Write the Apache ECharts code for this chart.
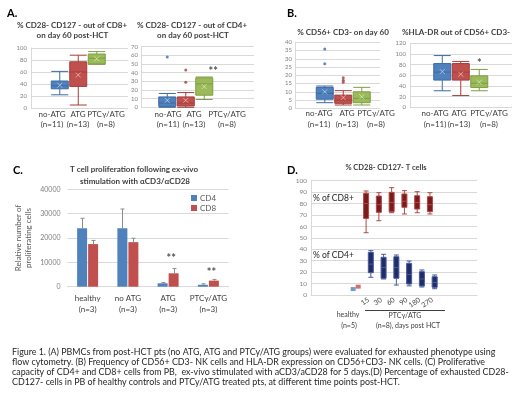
<!DOCTYPE html>
<html>
<head>
<meta charset="utf-8">
<script src="https://cdn.jsdelivr.net/npm/echarts@6/dist/echarts.min.js"></script>
<style>
html, body { margin: 0; padding: 0; background: #fff; }
#main { width: 520px; height: 396px; }
</style>
</head>
<body>
<div id="main"></div>
<script>
// groups used by panels A and B
var groups = ['no-ATG', 'ATG', 'PTCγ/ATG'];
var groupN = ['(n=11)', '(n=13)', '(n=8)'];

// A left: % CD28- CD127- out of CD8+  [min, Q1, median, Q3, max]
var cd8Box = [[22, 32, 37, 45, 61], [5, 36, 60, 77, 88], [73, 73, 83, 90, 94]];
var cd8Mean = [38, 55, 82];
var cd8Outliers = [[], [], []];
var cd8Sig = [[2, 101, '**']];

// A right: % CD28- CD127- out of CD4+
var cd4Box = [[0, 1, 5, 12, 16], [0, 1.5, 5, 12, 17], [9, 14, 27, 34, 35]];
var cd4Mean = [8, 8, 24];
var cd4Outliers = [[58], [43, 29], []];
var cd4Sig = [[2, 41.5, '**']];

// B left: % CD56+ CD3- on day 60
var nkBox = [[3.4, 5.5, 9, 12.7, 13.5], [2, 3, 5, 8, 10.7], [2, 3.4, 6, 10, 12.7]];
var nkMean = [10, 6.5, 7];
var nkOutliers = [[36, 27], [18.5, 17, 15.8], []];
var nkSig = [];

// B right: %HLA-DR out of CD56+ CD3-
var hlaBox = [[31, 51, 66, 82, 97], [22, 51, 66, 82, 86], [31, 37, 45, 59, 71]];
var hlaMean = [67, 62, 47];
var hlaOutliers = [[], [], []];
var hlaSig = [[2, 82, '*']];

// C: proliferation
var procCats = ['healthy\n(n=3)', 'no ATG\n(n=3)', 'ATG\n(n=3)', 'PTCγ/ATG\n(n=3)'];
var cd4Prolif = [24000, 24000, 1400, 800];
var cd4ProlifErr = [4100, 7900, 300, 400];
var cd8Prolif = [17500, 18300, 5500, 2500];
var cd8ProlifErr = [1500, 1600, 2000, 500];
var prolifSig = [[2, 11400, '**'], [3, 5800, '**']];

// D: % CD28- CD127- T cells over time
var dayLabels = ['15', '30', '60', '90', '180', '270'];
var dCats = ['p1', 'p2', 'p3', 'healthy'].concat(dayLabels, ['p4', 'p5', 'p6']);
var dCd8Box = [[54.5, 67, 80, 89, 91], [65, 72.3, 79, 86.6, 89.5], [72, 72.9, 81, 89.8, 93.9],
               [70.9, 76.7, 82, 88.4, 91.3], [72, 75.2, 81, 86.9, 90.4], [70.9, 72.9, 79, 86, 89.5]];
var dCd4Box = [[15.5, 19.5, 27, 37.3, 38.8], [14, 14.6, 24, 33, 35.6], [8.7, 14.6, 24, 33.5, 35],
               [8, 9.6, 18, 27.7, 29.7], [7, 7.9, 14, 20.4, 21.9], [5.5, 6.7, 11, 16, 17.5]];
var healthyCd4 = 5.2;
var healthyCd8 = 7.3;

var caption = [
  'Figure 1. (A) PBMCs from post-HCT pts (no ATG, ATG and PTCy/ATG groups) were evaluated for exhausted phenotype using',
  'flow cytometry. (B) Frequency of CD56+ CD3- NK cells and HLA-DR expression on CD56+CD3- NK cells. (C) Proliferative',
  'capacity of CD4+ and CD8+ cells from PB,  ex-vivo stimulated with aCD3/aCD28 for 5 days.(D) Percentage of exhausted CD28-',
  'CD127- cells in PB of healthy controls and PTCy/ATG treated pts, at different time points post-HCT.'
];

var FONT = 'Lato';
var groupColors = ['#4f81bd', '#c0504d', '#9bbb59'];
var groupBorders = ['#3c6aa3', '#a53d3a', '#7f9d44'];
var gridColor = '#d9d9d9';

var grids = [], xAxes = [], yAxes = [], series = [], graphics = [];

function txt(x, y, text, size, color, align, weight) {
  graphics.push({
    type: 'text', x: x, y: y, silent: true,
    style: {
      text: text, fill: color || '#404040', textAlign: align || 'center', textVerticalAlign: 'middle',
      font: (weight || 'normal') + ' ' + size + 'px ' + FONT
    }
  });
}

function boxPanel(p) {
  // background grid: value axis and grid lines
  var bg = grids.length;
  grids.push({ left: p.left, top: p.top, width: p.width, height: p.height });
  xAxes.push({ gridIndex: bg, type: 'value', show: false, min: 0, max: 1 });
  yAxes.push({
    gridIndex: bg, type: 'value', min: 0, max: p.max, interval: p.step,
    axisLine: { show: true, lineStyle: { color: gridColor } }, axisTick: { show: false },
    splitLine: { lineStyle: { color: gridColor, width: 1 } },
    axisLabel: { fontSize: p.labelSize, color: '#808080', margin: p.margin, fontFamily: FONT }
  });
  // box grid: three groups side by side
  var fg = grids.length;
  grids.push({ left: p.boxLeft, top: p.top, width: 55.5, height: p.height });
  xAxes.push({ gridIndex: fg, type: 'category', data: groups, show: false });
  yAxes.push({ gridIndex: fg, type: 'value', min: 0, max: p.max, show: false });

  series.push({
    type: 'boxplot', xAxisIndex: fg, yAxisIndex: fg, boxWidth: [17, 17],
    data: p.box.map(function (b, i) {
      return { value: b, itemStyle: { color: groupColors[i], borderColor: groupBorders[i], borderWidth: 1 } };
    })
  });
  var outs = [];
  p.outliers.forEach(function (arr, i) {
    arr.forEach(function (v) {
      outs.push({ value: [i, v], itemStyle: { color: groupBorders[i] } });
    });
  });
  series.push({ type: 'scatter', xAxisIndex: fg, yAxisIndex: fg, symbolSize: 3, data: outs, z: 5 });
  series.push({
    type: 'scatter', xAxisIndex: fg, yAxisIndex: fg, symbol: 'path://M0,0L8,8M8,0L0,8', symbolSize: 5, z: 6,
    data: p.mean.map(function (m, i) {
      return { value: [i, m], itemStyle: { color: 'transparent', borderColor: 'rgba(255,255,255,0.6)', borderWidth: 1 } };
    })
  });
  series.push({
    type: 'scatter', xAxisIndex: fg, yAxisIndex: fg, symbolSize: 1, z: 7,
    itemStyle: { color: 'transparent' },
    label: {
      show: true, position: 'inside', offset: p.sigOffset || [0, 0], formatter: function (d) { return d.value[2]; },
      fontSize: 11, fontWeight: 'bold', color: '#262626', fontFamily: FONT
    },
    data: p.sig
  });
  groups.forEach(function (g, i) {
    txt(p.labelX[i], p.labelY, g, 8, '#404040');
    txt(p.labelX[i], p.labelY + 10.5, groupN[i], 8, '#404040');
  });
}

boxPanel({ left: 31, top: 48, width: 97, height: 60, max: 100, step: 20, labelSize: 6, margin: 4,
  boxLeft: 50.5, box: cd8Box, mean: cd8Mean, outliers: cd8Outliers, sig: cd8Sig,
  labelX: [52, 78, 106], labelY: 114 });
boxPanel({ left: 141, top: 46.7, width: 113, height: 60.6, max: 70, step: 10, labelSize: 6, margin: 3,
  boxLeft: 158, box: cd4Box, mean: cd4Mean, outliers: cd4Outliers, sig: cd4Sig, sigOffset: [9, 0],
  labelX: [168, 194, 227], labelY: 114 });
boxPanel({ left: 295, top: 42.3, width: 85, height: 66, max: 40, step: 5, labelSize: 6, margin: 3,
  boxLeft: 315.5, box: nkBox, mean: nkMean, outliers: nkOutliers, sig: nkSig,
  labelX: [319, 347, 376], labelY: 113.5 });
boxPanel({ left: 410, top: 43.3, width: 102, height: 64, max: 120, step: 20, labelSize: 6, margin: 4,
  boxLeft: 433, box: hlaBox, mean: hlaMean, outliers: hlaOutliers, sig: hlaSig,
  labelX: [435, 459, 489], labelY: 113.5 });

// ---- C: bar chart with error bars
var gc = grids.length;
grids.push({ left: 67.5, top: 189.3, width: 161, height: 97.4 });
xAxes.push({
  gridIndex: gc, type: 'category', data: procCats,
  axisLine: { lineStyle: { color: gridColor } }, axisTick: { show: false },
  axisLabel: { fontSize: 8, color: '#404040', margin: 6, lineHeight: 11, fontFamily: FONT, interval: 0 }
});
yAxes.push({
  gridIndex: gc, type: 'value', min: 0, max: 40000, interval: 10000,
  name: 'Relative number of\nproliferating cells', nameLocation: 'middle', nameRotate: 90, nameGap: 34,
  nameTextStyle: { fontSize: 8, color: '#595959', lineHeight: 10, fontFamily: FONT },
  axisLine: { show: false }, axisTick: { show: false },
  splitLine: { lineStyle: { color: gridColor } },
  axisLabel: { fontSize: 7, color: '#7f7f7f', margin: 7, fontFamily: FONT, formatter: function (v) { return String(v); } }
});
series.push({ name: 'CD4', type: 'bar', xAxisIndex: gc, yAxisIndex: gc, data: cd4Prolif, barWidth: 10, barGap: '10%', itemStyle: { color: '#4f81bd' } });
series.push({ name: 'CD8', type: 'bar', xAxisIndex: gc, yAxisIndex: gc, data: cd8Prolif, barWidth: 10, barGap: '10%', itemStyle: { color: '#c0504d' } });

function errRender(offset) {
  return function (params, api) {
    var base = api.coord([api.value(0), api.value(1)]);
    var top = api.coord([api.value(0), api.value(2)]);
    var x = Math.round(base[0] + offset) + 0.5;
    var st = { stroke: '#8c8c8c', lineWidth: 1 };
    return {
      type: 'group', children: [
        { type: 'line', shape: { x1: x, y1: base[1], x2: x, y2: top[1] }, style: st },
        { type: 'line', shape: { x1: x - 2, y1: top[1], x2: x + 2, y2: top[1] }, style: st }
      ]
    };
  };
}
series.push({
  type: 'custom', xAxisIndex: gc, yAxisIndex: gc, z: 4, renderItem: errRender(-5.5),
  data: cd4Prolif.map(function (v, i) { return [i, v, v + cd4ProlifErr[i]]; })
});
series.push({
  type: 'custom', xAxisIndex: gc, yAxisIndex: gc, z: 4, renderItem: errRender(5.5),
  data: cd8Prolif.map(function (v, i) { return [i, v, v + cd8ProlifErr[i]]; })
});
series.push({
  type: 'scatter', xAxisIndex: gc, yAxisIndex: gc, symbolSize: 1, z: 7, itemStyle: { color: 'transparent' },
  label: { show: true, position: 'inside', offset: [3, 0], formatter: function (d) { return d.value[2]; },
    fontSize: 11, fontWeight: 'bold', color: '#262626', fontFamily: FONT },
  data: prolifSig
});

// ---- D: box plots over time
var gd = grids.length;
grids.push({ left: 311, top: 180.7, width: 166, height: 114.3 });
xAxes.push({
  gridIndex: gd, type: 'category', data: dCats,
  axisLine: { lineStyle: { color: gridColor } }, axisTick: { show: false },
  axisLabel: {
    interval: 0, rotate: 35, fontSize: 7, color: '#404040', margin: 4, fontFamily: FONT,
    formatter: function (v) { return dayLabels.indexOf(v) >= 0 ? v : ''; }
  }
});
yAxes.push({
  gridIndex: gd, type: 'value', min: 0, max: 100, interval: 10,
  axisLine: { show: true, lineStyle: { color: gridColor } }, axisTick: { show: false },
  splitLine: { lineStyle: { color: gridColor } },
  axisLabel: { fontSize: 6.5, color: '#808080', margin: 4, fontFamily: FONT }
});
function dBoxes(arr) {
  return arr.map(function (b, i) { return [dCats.indexOf(dayLabels[i])].concat(b); });
}
series.push({
  type: 'boxplot', xAxisIndex: gd, yAxisIndex: gd, boxWidth: [5, 5],
  encode: { x: 0, y: [1, 2, 3, 4, 5] },
  itemStyle: { color: '#7a1c1c', borderColor: '#b04848', borderWidth: 1 },
  data: dBoxes(dCd8Box)
});
series.push({
  type: 'boxplot', xAxisIndex: gd, yAxisIndex: gd, boxWidth: [5, 5],
  encode: { x: 0, y: [1, 2, 3, 4, 5] },
  itemStyle: { color: '#1f2d68', borderColor: '#4a5b9c', borderWidth: 1 },
  data: dBoxes(dCd4Box)
});
series.push({
  type: 'scatter', xAxisIndex: gd, yAxisIndex: gd, symbol: 'rect', symbolSize: [5, 4], z: 6,
  data: [
    { value: [dCats.indexOf('healthy'), healthyCd4], symbolOffset: [-2.5, 0], itemStyle: { color: '#4f81bd' } },
    { value: [dCats.indexOf('healthy'), healthyCd8], symbolOffset: [2.5, 0], itemStyle: { color: '#c0504d' } }
  ]
});

// ---- texts
txt(7, 13, 'A.', 11, '#000', 'left', 'bold');
txt(287, 13, 'B.', 11, '#000', 'left', 'bold');
txt(13, 170, 'C.', 11, '#000', 'left', 'bold');
txt(287, 170, 'D.', 11, '#000', 'left', 'bold');

txt(72, 25, '% CD28- CD127 - out of CD8+', 8, '#404040', 'center', 'bold');
txt(72.5, 35.5, 'on day 60 post-HCT', 8, '#404040', 'center', 'bold');
txt(192, 25, '% CD28- CD127 - out of CD4+', 8, '#404040', 'center', 'bold');
txt(193, 35.5, 'on day 60 post-HCT', 8, '#404040', 'center', 'bold');
txt(343, 32, '% CD56+ CD3- on day 60', 8, '#404040', 'center', 'bold');
txt(456, 32, '%HLA-DR out of CD56+ CD3-', 8, '#404040', 'center', 'bold');
txt(134, 169.5, 'T cell proliferation following ex-vivo', 8, '#404040', 'center', 'bold');
txt(135, 181, 'stimulation with αCD3/αCD28', 8, '#404040', 'center', 'bold');
txt(386, 168, '% CD28- CD127- T cells', 7.5, '#404040', 'center', 'bold');

txt(313, 198, '% of CD8+', 8.5, '#262626', 'left');
txt(313, 255, '% of CD4+', 8.5, '#262626', 'left');
txt(348, 315, 'healthy', 7, '#404040');
txt(349, 325.5, '(n=5)', 7, '#404040');
txt(405, 315.5, 'PTCγ/ATG', 7, '#404040');
txt(408, 325.5, '(n=8), days post HCT', 7, '#404040');
graphics.push({ type: 'line', silent: true, shape: { x1: 365, y1: 310.5, x2: 445, y2: 310.5 }, style: { stroke: '#404040', lineWidth: 1 } });

caption.forEach(function (line, i) {
  txt(12, 351.7 + i * 10.2, line, 8.9, '#262626', 'left');
});

var chart = echarts.init(document.getElementById('main'));
chart.setOption({
  animation: false,
  backgroundColor: '#fff',
  textStyle: { fontFamily: FONT },
  grid: grids,
  xAxis: xAxes,
  yAxis: yAxes,
  legend: {
    data: ['CD4', 'CD8'], orient: 'vertical', left: 186, top: 189, itemWidth: 6, itemHeight: 6, itemGap: 2,
    icon: 'rect', textStyle: { fontSize: 8, color: '#595959', fontFamily: FONT, padding: [0, 0, 0, -2] }
  },
  series: series,
  graphic: graphics
});
</script>
</body>
</html>
